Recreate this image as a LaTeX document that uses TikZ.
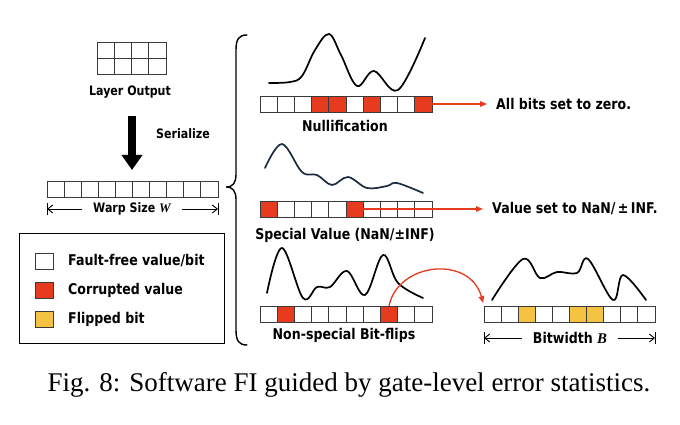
\documentclass[tikz,border=0pt]{standalone}
\usepackage{fontspec}
\setmainfont{Liberation Serif}
\newfontfamily\labfont{DejaVu Sans}[FakeStretch=0.85]
\usetikzlibrary{arrows.meta}
\definecolor{cred}{HTML}{E63B1F}
\definecolor{cyel}{HTML}{F5C342}
\definecolor{cnavy}{HTML}{1C2B3F}
\definecolor{cedge}{HTML}{3A3A3A}
\newcommand{\mathvar}[1]{{\rmfamily\bfseries\itshape #1}}
\begin{document}
\begin{tikzpicture}[x=1pt,y=-1pt,
 cell/.style={draw=cedge, line width=0.9pt, minimum width=17.15pt, minimum height=16pt, inner sep=0pt, outer sep=0pt},
 lbl/.style={font=\labfont\bfseries\fontsize{14.8}{16}\selectfont, inner sep=0pt},
 slbl/.style={font=\labfont\bfseries\fontsize{13}{14}\selectfont, inner sep=0pt},
 wave/.style={line width=1.7pt, line cap=round, line join=round},
 redarrow/.style={draw=cred, line width=1.3pt, -{Triangle[length=7pt,width=5.5pt]}},
 dimarrow/.style={line width=0.9pt, -{Straight Barb[length=5pt,width=8pt]}},
 bar/.style={line width=0.9pt},
]
\useasboundingbox[fill=white] (0,0) rectangle (680,425);

% ---------- left part ----------
\foreach \r in {0,1}{
  \foreach \i in {0,...,3}{
    \node[cell] (g\r\i) at ({97+8.625+17.25*\i},{50+16*\r}) {};
  }
}
\node[slbl] (lo) at (130,92) {Layer Output};
\coordinate (sa) at (132,116);
\coordinate (sb) at (132,170);
\draw[line width=8.5pt, -{Triangle[length=15pt,width=20pt]}] (sa) -- (sb);
\node[slbl] (ser) at (183,134) {Serialize};

\foreach \i in {0,...,9}{
  \node[cell] (w\i) at ({47+8.55+17.1*\i},189) {};
}
\node[slbl, inner xsep=11pt] (ws) at (132,209) {Warp Size \mathvar{W}};
\coordinate (wl) at (47,209);
\coordinate (wr) at (218,209);
\draw[dimarrow] (ws.west) -- (wl);
\draw[dimarrow] (ws.east) -- (wr);
\draw[bar] ([yshift=6pt]wl) -- ([yshift=-6pt]wl);
\draw[bar] ([yshift=6pt]wr) -- ([yshift=-6pt]wr);

% legend
\node[draw, line width=1.3pt, minimum width=205pt, minimum height=110pt, anchor=north west, inner sep=0pt] (legend) at (19,233) {};
\node[cell, fill=white] (k1) at (44.5,261) {};
\node[cell, fill=cred] (k2) at (44.5,290) {};
\node[cell, fill=cyel] (k3) at (44.5,319) {};
\node[lbl, anchor=west] (t1) at (68,261) {Fault-free value/bit};
\node[lbl, anchor=west] (t2) at (68,290) {Corrupted value};
\node[lbl, anchor=west] (t3) at (68,319) {Flipped bit};

% brace
\draw[line width=1.4pt, line cap=round] (247,35) .. controls (239,35) and (236,39) .. (236,50)
  -- (236,174) .. controls (236,183) and (233,187) .. (226,187)
  .. controls (233,187) and (236,191) .. (236,200)
  -- (236,330) .. controls (236,341) and (239,345) .. (247,345);

% ---------- Nullification ----------
\draw[wave] plot[smooth, tension=0.6] coordinates {(269,83) (290,82) (302,76) (315,50) (329,34) (341,55) (357,86) (374,71) (398,90) (425,38)};
\foreach \c [count=\i from 0] in {white,white,white,cred,cred,white,cred,white,white,cred}{
  \node[cell, fill=\c] (n\i) at ({260+8.6+17.2*\i},104) {};
}
\node[lbl] (nl) at (345,126) {Nullification};
\node[lbl, anchor=west] (allz) at (496,104) {All bits set to zero.};
\draw[redarrow, shorten >=9pt] (n9.east) -- (allz.west);

% ---------- Special value ----------
\draw[wave, draw=cnavy] plot[smooth, tension=0.6] coordinates {(265,168) (282,144) (302,172) (317,175) (332,185) (348,177) (367,188) (387,186) (397,183) (423,193)};
\foreach \c [count=\i from 0] in {cred,white,white,white,white,cred,white,white,white,white}{
  \node[cell, fill=\c] (s\i) at ({260+8.6+17.2*\i},209) {};
}
\node[lbl] (sl) at (345,235) {Special Value (NaN/±INF)};
\node[lbl, anchor=west] (nan) at (492,209) {Value set to NaN/\,±\,INF.};
\draw[redarrow, shorten >=9pt] (s5.east) -- (nan.west);

% ---------- Non-special bit flips ----------
\draw[wave] plot[smooth, tension=0.6] coordinates {(267,293) (282,248) (303,298) (317,287) (330,287) (347,271) (365,295) (383,255) (398,283) (423,298)};
\foreach \c [count=\i from 0] in {white,cred,white,white,white,white,white,cred,white,white}{
  \node[cell, fill=\c] (b\i) at ({260+8.6+17.2*\i},314) {};
}
\node[lbl] (bl) at (344,335) {Non-special Bit-flips};

% ---------- Bitwidth ----------
\draw[wave] plot[smooth, tension=0.6] coordinates {(492,300) (523,259) (540,278) (557,272) (577,273) (588,259) (613,300) (623,275) (646,300)};
\foreach \c [count=\i from 0] in {white,white,cyel,white,white,cyel,cyel,white,white,white}{
  \node[cell, fill=\c] (bw\i) at ({484+8.55+17.1*\i},314) {};
}
\node[lbl, inner xsep=11pt] (bwl) at (570,338) {Bitwidth \mathvar{B}};
\coordinate (bl0) at (484,338);
\coordinate (bl1) at (655,338);
\draw[dimarrow] (bwl.west) -- (bl0);
\draw[dimarrow] (bwl.east) -- (bl1);
\draw[bar] ([yshift=6pt]bl0) -- ([yshift=-6pt]bl0);
\draw[bar] ([yshift=6pt]bl1) -- ([yshift=-6pt]bl1);

\draw[redarrow, shorten >=3pt] (b7.north) .. controls (398,262) and (470,255) .. (bw0.north west);

% caption
\node[font=\fontsize{27}{30}\selectfont, inner sep=0pt] (cap) at (349,385) {Fig. 8: Software FI guided by gate-level error statistics.};
\end{tikzpicture}
\end{document}
